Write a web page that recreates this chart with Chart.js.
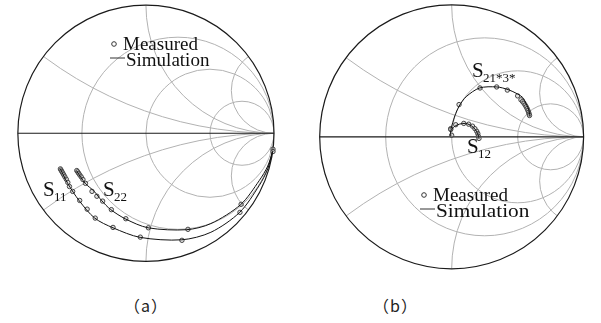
<!DOCTYPE html>
<html>
<head>
<meta charset="utf-8">
<script src="https://cdn.jsdelivr.net/npm/chart.js@4.4.0/dist/chart.umd.min.js"></script>
<style>
  body { margin: 0; background: #fff; width: 601px; height: 323px; position: relative; overflow: hidden; }
  canvas { position: absolute; top: 0; }
  #chartA { left: 0; }
  #chartB { left: 300px; }
  .cap { position: absolute; top: 293px; font: 16px "Noto Sans CJK SC", sans-serif; color: #222; letter-spacing: 1px; }
</style>
</head>
<body>
<canvas id="chartA" width="300" height="280"></canvas>
<canvas id="chartB" width="301" height="280"></canvas>
<div class="cap" style="left:124px">（a）</div>
<div class="cap" style="left:373px">（b）</div>
<script>
// Smith chart grid values (normalized resistance / reactance)
const resistanceCircles = [1 / 3, 1, 3];
const reactanceCircles = [1 / 3, 1, 3, -1 / 3, -1, -3];

// (a) reflection coefficients, [re, im]
const s11Sim = [[-0.668, -0.279], [-0.611, -0.392], [-0.521, -0.528], [-0.400, -0.664], [-0.257, -0.740],
  [-0.045, -0.815], [0.279, -0.834], [0.507, -0.775], [0.732, -0.619], [0.885, -0.408], [0.951, -0.279], [0.989, -0.143]];
const s11Meas = [[-0.668, -0.279], [-0.663, -0.288], [-0.657, -0.299], [-0.650, -0.311], [-0.642, -0.325],
  [-0.633, -0.341], [-0.622, -0.360], [-0.610, -0.385], [-0.597, -0.417], [-0.572, -0.455], [-0.517, -0.526],
  [-0.459, -0.594], [-0.396, -0.664], [-0.257, -0.737], [-0.044, -0.813], [0.281, -0.838], [0.734, -0.619], [0.992, -0.143]];
const s22Sim = [[-0.542, -0.294], [-0.474, -0.392], [-0.406, -0.453], [-0.345, -0.528], [-0.277, -0.596],
  [-0.157, -0.672], [0.017, -0.740], [0.317, -0.755], [0.507, -0.707], [0.740, -0.558], [0.885, -0.370], [0.951, -0.257], [0.989, -0.143]];
const s22Meas = [[-0.540, -0.292], [-0.533, -0.302], [-0.525, -0.314], [-0.516, -0.327], [-0.505, -0.342],
  [-0.492, -0.362], [-0.472, -0.392], [-0.421, -0.455], [-0.383, -0.493], [-0.338, -0.531], [-0.270, -0.598],
  [-0.157, -0.669], [0.019, -0.740], [0.328, -0.752], [0.743, -0.556], [0.992, -0.125]];

// (b)
const s21Sim = [[-0.007, 0.056], [0.024, 0.159], [0.056, 0.232], [0.110, 0.305], [0.212, 0.371], [0.341, 0.379],
  [0.427, 0.359], [0.500, 0.325], [0.544, 0.293], [0.561, 0.256], [0.579, 0.220], [0.588, 0.188], [0.593, 0.154]];
const s21Meas = [[-0.007, 0.056], [0.056, 0.245], [0.215, 0.371], [0.341, 0.379], [0.422, 0.355], [0.500, 0.311],
  [0.525, 0.281], [0.537, 0.268], [0.548, 0.255], [0.557, 0.241], [0.565, 0.228], [0.572, 0.214], [0.578, 0.200],
  [0.583, 0.187], [0.587, 0.174], [0.590, 0.162]];
const s12Sim = [[-0.007, 0.005], [-0.007, 0.045], [0.024, 0.080], [0.061, 0.097], [0.105, 0.102], [0.139, 0.090],
  [0.166, 0.070], [0.188, 0.042], [0.202, 0.012], [0.207, -0.012]];
const s12Meas = [[-0.007, 0.062], [0.000, 0.012], [0.031, 0.092], [0.092, 0.102], [0.129, 0.096], [0.158, 0.081],
  [0.176, 0.062], [0.190, 0.042], [0.198, 0.025], [0.202, 0.005], [0.207, -0.012]];

const FONT = '"Liberation Serif", "Times New Roman", serif';

const pts = arr => arr.map(p => ({ x: p[0], y: p[1] }));

// draws the Smith chart grid with the chart's own scales
const smithGrid = {
  id: 'smithGrid',
  beforeDatasetsDraw(chart) {
    const { ctx, scales: { x, y } } = chart;
    const cx = x.getPixelForValue(0), cy = y.getPixelForValue(0);
    const R = x.getPixelForValue(1) - cx;
    ctx.save();
    ctx.beginPath();
    ctx.arc(cx, cy, R, 0, 2 * Math.PI);
    ctx.clip();
    ctx.strokeStyle = '#b2b2b2';
    ctx.lineWidth = 1;
    resistanceCircles.forEach(r => {
      ctx.beginPath();
      ctx.arc(cx + R * r / (1 + r), cy, R / (1 + r), 0, 2 * Math.PI);
      ctx.stroke();
    });
    reactanceCircles.forEach(xv => {
      ctx.beginPath();
      ctx.arc(cx + R, cy - R / xv, R / Math.abs(xv), 0, 2 * Math.PI);
      ctx.stroke();
    });
    ctx.restore();
    ctx.save();
    ctx.strokeStyle = '#1a1a1a';
    ctx.lineWidth = 1.2;
    ctx.beginPath();
    ctx.arc(cx, cy, R, 0, 2 * Math.PI);
    ctx.stroke();
    ctx.beginPath();
    ctx.moveTo(cx - R, cy);
    ctx.lineTo(cx + R, cy);
    ctx.stroke();
    ctx.restore();
  }
};

// labels and legend, pixel positions per chart
const annotate = {
  id: 'annotate',
  afterDraw(chart, args, opts) {
    const ctx = chart.ctx;
    ctx.save();
    ctx.fillStyle = '#111';
    ctx.textBaseline = 'alphabetic';
    (opts.labels || []).forEach(l => {
      ctx.font = '21px ' + FONT;
      ctx.fillText('S', l.x, l.y);
      ctx.font = '13px ' + FONT;
      ctx.fillText(l.sub, l.x + 11, l.y + 5);
    });
    const lg = opts.legend;
    if (lg) {
      ctx.strokeStyle = '#333';
      ctx.lineWidth = 1;
      ctx.beginPath();
      ctx.arc(lg.x + 4, lg.y - 6, 2.3, 0, 2 * Math.PI);
      ctx.stroke();
      ctx.font = '19px ' + FONT;
      ctx.fillText('Measured', lg.x + 13, lg.y);
      ctx.beginPath();
      ctx.moveTo(lg.x, lg.y + 8);
      ctx.lineTo(lg.x + 15, lg.y + 8);
      ctx.stroke();
      ctx.save();
      ctx.translate(lg.x + 16, lg.y + 16);
      ctx.scale(lg.stretch || 1, 1);
      ctx.fillText('Simulation', 0, 0);
      ctx.restore();
    }
    ctx.restore();
  }
};

function simSet(data) {
  return { type: 'line', data: pts(data), borderColor: '#111', borderWidth: 1, pointRadius: 0, tension: 0.3, fill: false };
}
function measSet(data) {
  return { type: 'scatter', data: pts(data), pointRadius: 2.2, borderWidth: 1, borderColor: '#444',
    backgroundColor: 'rgba(190,190,190,0.45)', pointStyle: 'circle' };
}

function makeChart(id, datasets, xr, yr, annot) {
  return new Chart(document.getElementById(id), {
    type: 'scatter',
    data: { datasets: datasets },
    options: {
      responsive: false,
      animation: false,
      layout: { padding: 0 },
      scales: {
        x: { type: 'linear', display: false, min: xr[0], max: xr[1] },
        y: { type: 'linear', display: false, min: yr[0], max: yr[1] }
      },
      plugins: { legend: { display: false }, tooltip: { enabled: false }, annotate: annot }
    },
    plugins: [smithGrid, annotate]
  });
}

// chart (a): centre (145.8,133), radius 132.5 px
makeChart('chartA',
  [simSet(s11Sim), simSet(s22Sim), measSet(s11Meas), measSet(s22Meas)],
  [-145.8 / 132.5, (300 - 145.8) / 132.5], [(133 - 280) / 132.5, 133 / 132.5],
  { labels: [{ x: 43, y: 196, sub: '11' }, { x: 103, y: 196, sub: '22' }], legend: { x: 110, y: 50 } });

// chart (b): centre (151.7,136.7), radius 136.5 px
makeChart('chartB',
  [simSet(s21Sim), simSet(s12Sim), measSet(s21Meas), measSet(s12Meas)],
  [-151.7 / 136.5, (301 - 151.7) / 136.5], [(136.7 - 280) / 136.5, 136.7 / 136.5],
  { labels: [{ x: 172, y: 77, sub: '21*3*' }, { x: 167, y: 153, sub: '12' }], legend: { x: 120, y: 201, stretch: 1.12 } });
</script>
</body>
</html>
